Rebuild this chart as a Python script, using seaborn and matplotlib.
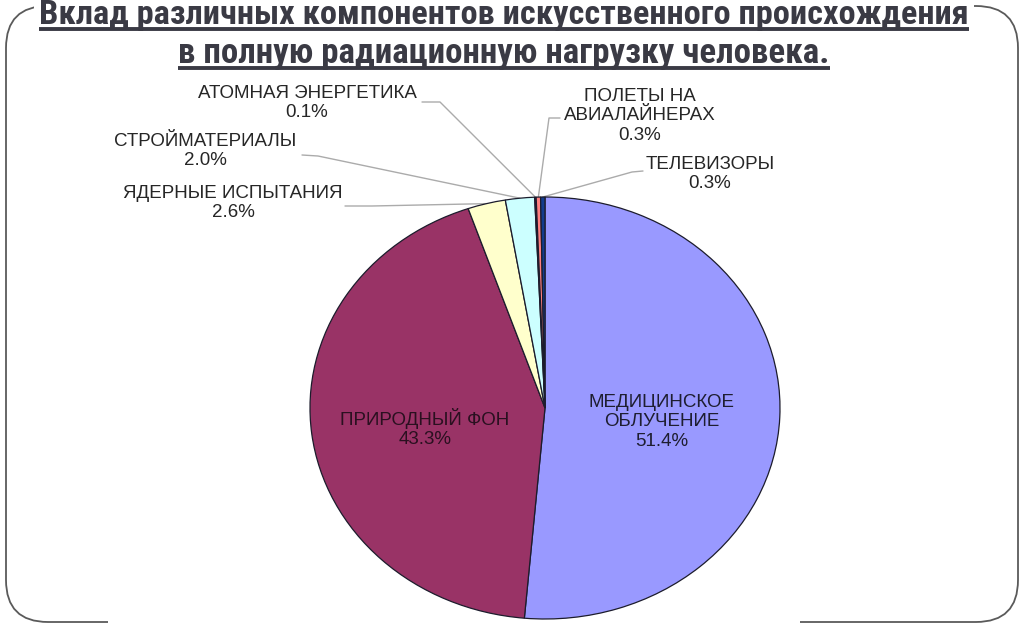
import matplotlib
matplotlib.use('Agg')

import numpy as np
import matplotlib.pyplot as plt
import seaborn as sns
from matplotlib.patches import FancyBboxPatch, Rectangle

sns.set_theme(style='white')
plt.rcParams['font.family'] = ['Liberation Sans', 'DejaVu Sans']

# data (clockwise from 12 o'clock)
labels = ['МЕДИЦИНСКОЕ\nОБЛУЧЕНИЕ', 'ПРИРОДНЫЙ ФОН', 'ЯДЕРНЫЕ ИСПЫТАНИЯ',
          'СТРОЙМАТЕРИАЛЫ', 'АТОМНАЯ ЭНЕРГЕТИКА', 'ПОЛЕТЫ НА\nАВИАЛАЙНЕРАХ',
          'ТЕЛЕВИЗОРЫ']
shares = [51.4, 43.3, 2.6, 2.0, 0.1, 0.3, 0.3]
colors = ['#9999FF', '#993366', '#FFFFCC', '#CCFFFF', '#660066', '#FF8080', '#123C8C']
title_lines = ['Вклад различных компонентов искусственного происхождения',
               'в полную радиационную нагрузку человека.']

W, H = 1024, 629
fig = plt.figure(figsize=(W / 100, H / 100), dpi=100)

# background axes in pixel coordinates (y down)
bg = fig.add_axes([0, 0, 1, 1])
bg.set_xlim(0, W)
bg.set_ylim(H, 0)
bg.axis('off')

# slide frame
frame = FancyBboxPatch((6, 6), 1012, 616, boxstyle='round,pad=0,rounding_size=42',
                       facecolor='white', edgecolor='#5a5a5a', lw=1.3, zorder=1)
bg.add_patch(frame)
# chart picture covering the bottom border
bg.add_patch(Rectangle((108, 590), 692, 39, facecolor='white', edgecolor='none', zorder=2))
# title background covering the top border
bg.add_patch(Rectangle((34, 0), 940, 30, facecolor='white', edgecolor='none', zorder=2))

# pie (ellipse: centre 545,408; radii 235 x 211)
cx, cy, rx, ry = 545, 408, 235, 211
ax = fig.add_axes([(cx - rx) / W, 1 - (cy + ry) / H, 2 * rx / W, 2 * ry / H])
wedges, _ = ax.pie(shares, colors=sns.color_palette(colors), startangle=90,
                   counterclock=False,
                   wedgeprops=dict(edgecolor='#1c1c2c', linewidth=0.9))
ax.set_aspect('auto')
ax.set_xlim(-1, 1)
ax.set_ylim(-1, 1)
ax.axis('off')

txt = dict(fontsize=13.5, color='#262626', ha='center', va='center', linespacing=1.2)


def label_text(i):
    return f'{labels[i]}\n{shares[i]:.1f}%'


# inner labels (drawn by the pie axes, placed in pixel coords)
ax.text(662, 422, label_text(0), transform=bg.transData, clip_on=False, zorder=5,
        **{**txt, 'color': '#1e1e30'})
ax.text(425, 428, label_text(1), transform=bg.transData, clip_on=False, zorder=5,
        **{**txt, 'color': '#2a1020'})


def edge_point(i):
    w = wedges[i]
    mid = np.deg2rad((w.theta1 + w.theta2) / 2)
    px, py = ax.transData.transform((np.cos(mid), np.sin(mid)))
    return px, H - py


# outer labels: text centre, leader start, leader elbow
outer = {
    2: ((233, 203), (345, 206), (372, 206)),
    3: ((205, 151), (302, 155), (318, 156)),
    4: ((307, 103), (422, 102), (440, 102)),
    5: ((640, 116), (560, 118), (549, 118)),
    6: ((710, 174), (643, 171), (632, 172)),
}
for i, (tpos, start, elbow) in outer.items():
    bg.text(tpos[0], tpos[1], label_text(i), zorder=5, **txt)
    ex, ey = edge_point(i)
    bg.plot([start[0], elbow[0], ex], [start[1], elbow[1], ey],
            color='#ababab', lw=1.0, zorder=3)

# title, bold, underlined
title_color = '#3a3a44'
title_family = ['Liberation Sans Narrow', 'Roboto Condensed', 'Open Sans Condensed',
                'Noto Sans Condensed', 'DejaVu Sans Condensed', 'Liberation Sans']
title_specs = [(504, 24, 930), (504, 63, 652)]
for line, (x, y, target_w) in zip(title_lines, title_specs):
    t = ax.text(x, y, line, fontsize=24, fontweight='bold', color=title_color,
                family=title_family, transform=bg.transData, clip_on=False,
                ha='center', va='baseline', zorder=6)
    fig.canvas.draw()
    bb = t.get_window_extent()
    t.set_fontsize(24 * target_w / bb.width)
    bg.plot([x - target_w / 2, x + target_w / 2], [y + 4.5, y + 4.5],
            color=title_color, lw=2.8, zorder=6, solid_capstyle='butt')

plt.savefig('out.png', dpi=100)
